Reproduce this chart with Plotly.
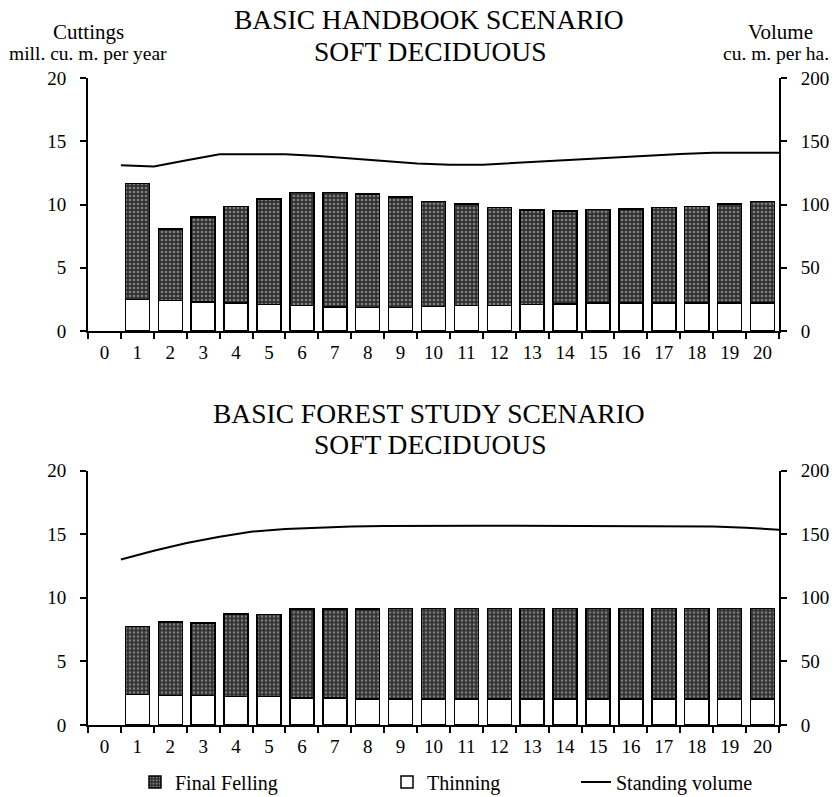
import plotly.graph_objects as go

# ---------------- data ----------------
years = list(range(1, 21))
tick_vals = list(range(0, 21))
tick_text = [str(v) for v in tick_vals]

# Basic handbook scenario (mill. cu. m. per year)
hb_thinning = [2.50, 2.40, 2.30, 2.20, 2.10, 2.00, 1.88, 1.85, 1.87, 1.95,
               2.03, 2.03, 2.10, 2.15, 2.22, 2.22, 2.22, 2.22, 2.22, 2.22]
hb_final = [9.15, 5.65, 6.70, 7.65, 8.35, 8.95, 9.07, 9.00, 8.73, 8.27,
            8.02, 7.72, 7.47, 7.35, 7.40, 7.43, 7.53, 7.63, 7.83, 8.00]

# Basic forest study scenario
fs_thinning = [2.41, 2.32, 2.33, 2.23, 2.23, 2.13, 2.13, 2.05, 2.05, 2.05,
               2.05, 2.05, 2.05, 2.05, 2.05, 2.05, 2.05, 2.05, 2.05, 2.05]
fs_final = [5.35, 5.78, 5.70, 6.51, 6.46, 6.97, 6.97, 7.08, 7.10, 7.12,
            7.12, 7.12, 7.12, 7.12, 7.12, 7.12, 7.12, 7.12, 7.12, 7.12]

# Standing volume (cu. m. per ha.), at period boundaries
vol_x = [0.5 + k for k in range(21)]
hb_volume = [131, 130, 135, 139.7, 139.7, 139.7, 138.3, 136.6, 134.4, 132.5,
             131.5, 131.5, 133, 134.5, 136, 137.5, 139, 140, 141, 141, 141]
fs_volume = [130, 137, 143, 148, 152, 154, 155, 156, 156.3, 156.5,
             156.5, 156.5, 156.5, 156.5, 156.5, 156.5, 156.5, 156.3, 156, 155, 153.5]

# ---------------- styling ----------------
W, H = 839, 797
FONT = "Liberation Serif, Times New Roman, serif"
pattern = dict(shape=".", bgcolor="#303030", fgcolor="#d0d0d0", size=4, solidity=0.35)
bar_line = dict(color="black", width=1.5)
BW = 0.73


def py(px):
    return 1 - px / H


fig = go.Figure()

for i, (thin, fin, vol) in enumerate([(hb_thinning, hb_final, hb_volume),
                                       (fs_thinning, fs_final, fs_volume)]):
    xa = "x" if i == 0 else "x2"
    ya = "y" if i == 0 else "y3"
    ya2 = "y2" if i == 0 else "y4"
    fig.add_trace(go.Bar(x=years, y=thin, name="Thinning", xaxis=xa, yaxis=ya,
                         width=BW, marker=dict(color="white", line=bar_line),
                         legend="legend2", showlegend=(i == 0)))
    fig.add_trace(go.Bar(x=years, y=fin, name="Final Felling", xaxis=xa, yaxis=ya,
                         width=BW, marker=dict(color="#555", pattern=pattern, line=bar_line),
                         legend="legend", showlegend=(i == 0)))
    fig.add_trace(go.Scatter(x=vol_x, y=vol, name="Standing volume", xaxis=xa, yaxis=ya2,
                             mode="lines", line=dict(color="black", width=2),
                             legend="legend3", showlegend=(i == 0)))

top_dom = [py(331), py(78)]
bot_dom = [py(725), py(470.5)]

xcommon = dict(range=[-0.5, 20.5], tickmode="array", tickvals=tick_vals, ticktext=tick_text,
               ticks="", showline=True, linecolor="black", linewidth=2, showgrid=False,
               zeroline=False, ticklabelstandoff=3, automargin=False,
               tickfont=dict(family=FONT, size=19, color="black"),
               minor=dict(tickmode="array", tickvals=[k - 0.5 for k in range(22)],
                          ticks="outside", ticklen=6, tickwidth=2, tickcolor="black"),
               domain=[88 / W, 779 / W])
yleft = dict(range=[0, 20], tickvals=[0, 5, 10, 15, 20], ticks="outside", ticklen=6, tickwidth=2,
             tickcolor="black", showline=True, linecolor="black", linewidth=2, showgrid=False,
             zeroline=False, ticklabelstandoff=10, automargin=False,
             tickfont=dict(family=FONT, size=19, color="black"))
yright = dict(range=[0, 200], tickvals=[0, 50, 100, 150, 200], ticks="outside", ticklen=6,
              tickwidth=2, tickcolor="black", showline=True, linecolor="black", linewidth=2,
              showgrid=False, zeroline=False, side="right", ticklabelstandoff=10, automargin=False,
              tickfont=dict(family=FONT, size=19, color="black"))

leg = dict(y=py(782), xanchor="left", yanchor="middle", bgcolor="rgba(0,0,0,0)",
           font=dict(family=FONT, size=20, color="black"), itemwidth=30)

fig.update_layout(
    width=W, height=H, margin=dict(l=0, r=0, t=0, b=0, autoexpand=False),
    paper_bgcolor="white", plot_bgcolor="white",
    barmode="stack", bargap=0.27,
    font=dict(family=FONT, color="black"),
    xaxis=dict(**xcommon, anchor="y"),
    yaxis=dict(**yleft, domain=top_dom, anchor="x"),
    yaxis2=dict(**yright, domain=top_dom, anchor="x", overlaying="y"),
    xaxis2=dict(**xcommon, anchor="y3"),
    yaxis3=dict(**yleft, domain=bot_dom, anchor="x2"),
    yaxis4=dict(**yright, domain=bot_dom, anchor="x2", overlaying="y3"),
    legend=dict(x=135 / W, **leg),
    legend2=dict(x=387 / W, **leg),
    legend3=dict(x=576 / W, **leg),
)

ann = []
def text(t, x, y, size):
    ann.append(dict(text=t, x=x / W, y=py(y), xref="paper", yref="paper", showarrow=False,
                    xanchor="center", yanchor="middle",
                    font=dict(family=FONT, size=size, color="black")))

text("BASIC HANDBOOK SCENARIO", 429, 20, 27.5)
text("SOFT DECIDUOUS", 430, 51, 27.5)
text("BASIC FOREST STUDY SCENARIO", 429, 413, 27.5)
text("SOFT DECIDUOUS", 430, 444, 27.5)
text("Cuttings", 88, 32, 21)
text("mill. cu. m. per year", 88, 54, 19.5)
text("Volume", 780, 32, 21)
text("cu. m. per ha.", 776, 54, 19.5)
fig.update_layout(annotations=ann)

fig.write_html("out.html", config={"displayModeBar": False},
               post_script="document.body.style.margin='0';document.body.style.overflow='hidden';")
